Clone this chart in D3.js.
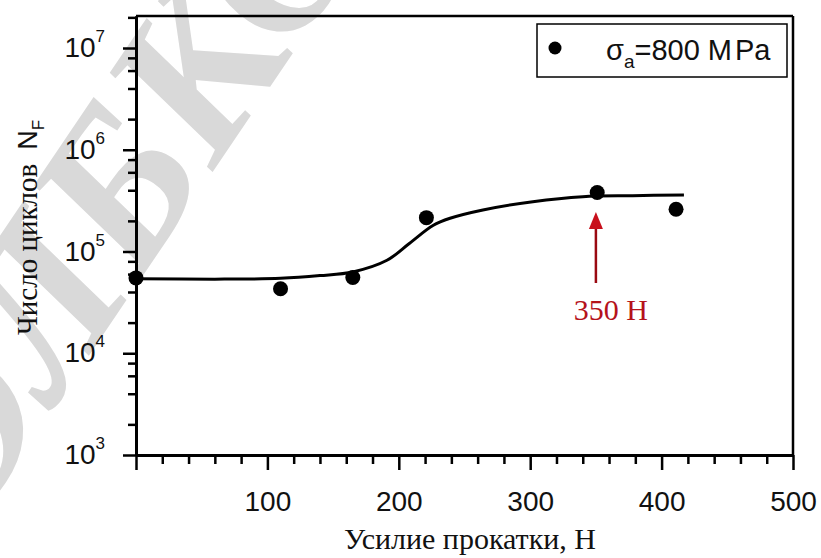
<!DOCTYPE html>
<html>
<head>
<meta charset="utf-8">
<script src="https://cdn.jsdelivr.net/npm/d3@7"></script>
<style>
  body { margin: 0; background: #fff; }
  svg { display: block; }
</style>
</head>
<body>
<div id="chart-area"></div>
<script>
// measured points (rolling force, cycles to failure)
var forceValues = [0, 110, 165, 221, 351, 411];
var cycleValues = [5.5e4, 4.3e4, 5.55e4, 2.15e5, 3.8e5, 2.6e5];

// fitted curve
var curveForce = [0, 60, 110, 140, 165, 191, 208, 226, 239, 264, 302, 340, 378, 417];
var curveCycles = [5.4e4, 5.35e4, 5.45e4, 5.8e4, 6.3e4, 8.2e4, 1.2e5, 1.8e5, 2.12e5, 2.56e5, 3.09e5, 3.46e5, 3.54e5, 3.59e5];

var xMajorTicks = [0, 100, 200, 300, 400, 500];
var xTickLabels = ['', '100', '200', '300', '400', '500'];
var yMajorTicks = [1e3, 1e4, 1e5, 1e6, 1e7];
var yTickExponents = ['3', '4', '5', '6', '7'];

var arrowForce = 350;
var arrowFrom = 4.9e4;
var arrowTo = 2.45e5;

var margin = { top: 16, right: 28, bottom: 103, left: 136 };
var width = 821 - margin.left - margin.right;
var height = 558 - margin.top - margin.bottom;

var svg = d3.select('#chart-area')
    .append('svg')
        .attr('width', 821)
        .attr('height', 558);

// watermark
svg.append('text')
    .attr('transform', 'translate(-22, 520) rotate(-56)')
    .attr('font-family', 'Liberation Serif')
    .attr('font-style', 'italic')
    .attr('font-weight', 'bold')
    .attr('font-size', '215px')
    .attr('fill', '#d9d9d9')
    .text('ЭЛБКО');

var g = svg.append('g')
    .attr('transform', 'translate(' + margin.left + ',' + margin.top + ')');

var x = d3.scaleLinear()
    .domain([0, 500])
    .range([0, width]);

var y = d3.scaleLog()
    .domain([1e3, Math.pow(10, 7 + 32 / 101.75)])
    .range([height, 0]);

// minor ticks
var xMinor = d3.range(0, 501, 20).filter((d) => { return d % 100 !== 0 });
var yMinor = [];
[1e3, 1e4, 1e5, 1e6, 1e7].forEach((dec) => {
    [2, 4, 6, 8].forEach((m) => {
        if (dec * m <= y.domain()[1]) yMinor.push(dec * m);
    });
});

// frame (top and right)
g.append('line')
    .attr('x1', 0).attr('x2', width).attr('y1', 0).attr('y2', 0)
    .attr('stroke', '#000').attr('stroke-width', 2.5);
g.append('line')
    .attr('x1', width).attr('x2', width).attr('y1', 0).attr('y2', height)
    .attr('stroke', '#000').attr('stroke-width', 2.5);

// X axis
g.append('g')
    .attr('class', 'bottom axis')
    .attr('transform', 'translate(0, ' + height + ')')
    .call(d3.axisBottom(x).tickValues(xMinor).tickSize(9).tickSizeOuter(0).tickFormat(''));
g.append('g')
    .attr('class', 'bottom axis')
    .attr('transform', 'translate(0, ' + height + ')')
    .call(d3.axisBottom(x).tickValues(xMajorTicks).tickSize(15).tickSizeOuter(0)
        .tickFormat((d, i) => { return xTickLabels[i] }));

// Y axis
g.append('g')
    .attr('class', 'left axis')
    .call(d3.axisLeft(y).tickValues(yMinor).tickSize(8).tickSizeOuter(0).tickFormat(''));
g.append('g')
    .attr('class', 'left axis')
    .call(d3.axisLeft(y).tickValues(yMajorTicks).tickSize(13).tickSizeOuter(0).tickFormat(''));

g.selectAll('.axis path').attr('stroke', '#000').attr('stroke-width', 3);
g.selectAll('.axis line').attr('stroke', '#000').attr('stroke-width', 2.5);
g.selectAll('.bottom.axis text')
    .attr('font-family', 'Liberation Sans')
    .attr('font-size', '28px')
    .attr('fill', '#111')
    .attr('dy', null)
    .attr('y', 56);

var yLabels = g.selectAll('.ylab').data(yMajorTicks)
    .enter()
    .append('text')
    .attr('class', 'ylab')
    .attr('x', -31)
    .attr('y', (d) => { return y(d) + 9 })
    .attr('text-anchor', 'end')
    .attr('font-family', 'Liberation Sans')
    .attr('font-size', '28px')
    .attr('fill', '#111');
yLabels.append('tspan').text('10');
yLabels.append('tspan')
    .attr('font-size', '17px')
    .attr('dy', -15)
    .text((d, i) => { return yTickExponents[i] });

// axis titles
g.append('text')
    .attr('x', 334)
    .attr('y', height + 94)
    .attr('text-anchor', 'middle')
    .attr('font-family', 'Liberation Serif')
    .attr('font-size', '30px')
    .attr('fill', '#111')
    .text('Усилие прокатки, Н');

var yTitle = g.append('text')
    .attr('transform', 'translate(-99, ' + (height / 2 - 8) + ') rotate(-90)')
    .attr('text-anchor', 'middle')
    .attr('fill', '#111');
yTitle.append('tspan')
    .attr('font-family', 'Liberation Serif')
    .attr('font-size', '29px')
    .text('Число циклов');
yTitle.append('tspan')
    .attr('font-family', 'Liberation Sans')
    .attr('font-size', '27px')
    .attr('dx', 14)
    .text('N');
yTitle.append('tspan')
    .attr('font-family', 'Liberation Sans')
    .attr('font-size', '17px')
    .attr('dy', 7)
    .text('F');

// fitted curve
var curveData = curveForce.map((d, i) => { return { f: d, n: curveCycles[i] } });
g.append('path')
    .datum(curveData)
    .attr('fill', 'none')
    .attr('stroke', '#000')
    .attr('stroke-width', 3)
    .attr('d', d3.line()
        .x((d) => { return x(d.f) })
        .y((d) => { return y(d.n) })
        .curve(d3.curveCatmullRom.alpha(0.5)));

// points
g.selectAll('circle.pt').data(forceValues)
    .enter()
    .append('circle')
    .attr('class', 'pt')
    .attr('cx', (d) => { return x(d) })
    .attr('cy', (d, i) => { return y(cycleValues[i]) })
    .attr('r', 7.5)
    .attr('fill', '#000');

// arrow annotation
var ax = x(arrowForce);
var ay0 = y(arrowFrom);
var ay1 = y(arrowTo);
g.append('line')
    .attr('x1', ax).attr('x2', ax)
    .attr('y1', ay0).attr('y2', ay1 + 14)
    .attr('stroke', '#9a0a12')
    .attr('stroke-width', 2.5);
g.append('path')
    .attr('d', 'M' + ax + ',' + ay1 + 'L' + (ax - 7) + ',' + (ay1 + 17) + 'L' + (ax + 7) + ',' + (ay1 + 17) + 'Z')
    .attr('fill', '#c8101c');
g.append('text')
    .attr('x', ax + 15)
    .attr('y', ay0 + 37)
    .attr('text-anchor', 'middle')
    .attr('font-family', 'Liberation Serif')
    .attr('font-size', '30px')
    .attr('fill', '#b5121b')
    .text('350 H');

// legend
var lg = svg.append('g').attr('transform', 'translate(537, 24)');
lg.append('rect')
    .attr('width', 250).attr('height', 53)
    .attr('fill', '#fff')
    .attr('stroke', '#000')
    .attr('stroke-width', 1.5);
lg.append('circle')
    .attr('cx', 18).attr('cy', 24).attr('r', 6.5)
    .attr('fill', '#000');
var lt = lg.append('text')
    .attr('x', 69)
    .attr('y', 36)
    .attr('font-family', 'Liberation Sans')
    .attr('font-size', '29px')
    .attr('fill', '#111');
lt.append('tspan').text('σ');
lt.append('tspan').attr('font-size', '19px').attr('dy', 8).text('a');
lt.append('tspan').attr('dy', -8).text('=800 M');
lt.append('tspan').attr('dx', 3).text('Pa');
</script>
</body>
</html>
